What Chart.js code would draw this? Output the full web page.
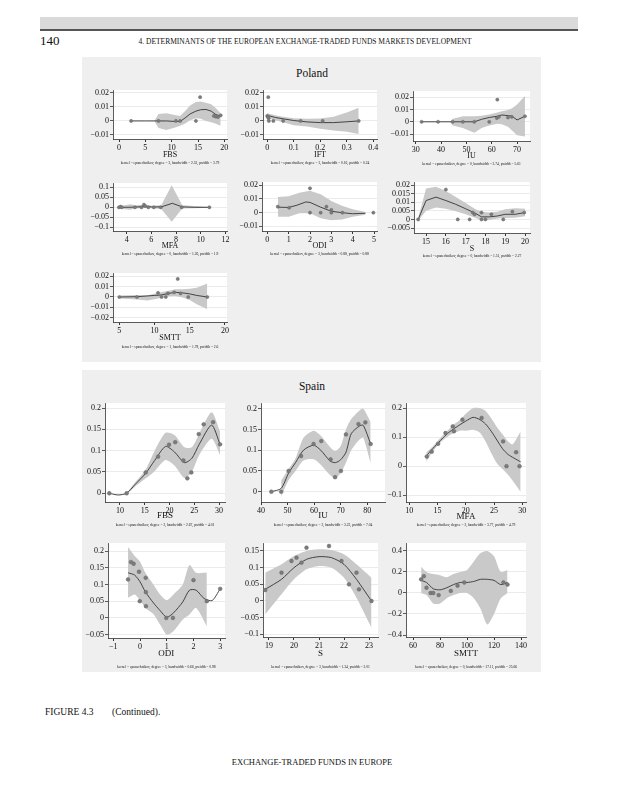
<!DOCTYPE html>
<html>
<head>
<meta charset="utf-8">
<script src="https://cdn.jsdelivr.net/npm/chart.js@4.4.1/dist/chart.umd.min.js"></script>
<style>
  body { margin: 0; width: 625px; height: 800px; background: #fff; position: relative; overflow: hidden;
         font-family: "Liberation Serif", "DejaVu Serif", serif; color: #111; }
  .blk { position: absolute; }
  .box { position: absolute; background: #efefef; }
  .t { position: absolute; white-space: nowrap; transform: translate(-50%, -50%); }
  .tl { position: absolute; white-space: nowrap; transform: translate(0, -50%); }
  canvas { position: absolute; }
</style>
</head>
<body>
<div class="blk" style="left:40px;top:17px;width:538px;height:12px;background:#dadada"></div>
<div class="blk" style="left:40px;top:29px;width:538px;height:1.5px;background:#555"></div>
<div class="tl" style="left:40px;top:41px;font-size:13px">140</div>
<div class="t" style="left:305px;top:41px;font-size:7.5px">4. DETERMINANTS OF THE EUROPEAN EXCHANGE-TRADED FUNDS MARKETS DEVELOPMENT</div>

<div class="box" style="left:82px;top:57px;width:459px;height:305px"></div>
<div class="box" style="left:82px;top:370px;width:459px;height:302px"></div>
<div class="t" style="left:312px;top:73px;font-size:11.5px">Poland</div>
<div class="t" style="left:312px;top:386px;font-size:11.5px">Spain</div>

<div class="tl" style="left:45px;top:712px;font-size:9.5px">FIGURE 4.3</div>
<div class="tl" style="left:112px;top:712px;font-size:9.5px">(Continued).</div>
<div class="t" style="left:312px;top:762px;font-size:8.5px">EXCHANGE-TRADED FUNDS IN EUROPE</div>

<script>
// ---------- Poland ----------
const plFbsPtX = [2.3, 7.5, 10.8, 11.6, 14.6, 15.4, 18.0, 18.4, 18.8, 19.3];
const plFbsPtY = [0, 0, 0, 0, 0, 0.017, 0.0036, 0.003, 0.0028, 0.004];
const plFbsFitX = [2.3, 5, 7.5, 9, 10.8, 11.6, 12.5, 13.5, 14.6, 15.5, 16.5, 17.5, 18.4, 19.3];
const plFbsFitY = [0, 0, 0, 0, -0.0004, -0.0004, 0.002, 0.005, 0.007, 0.008, 0.0082, 0.007, 0.0045, 0.0035];
const plFbsCiX = [6.7, 7.5, 9, 10.8, 11.6, 12.5, 13.5, 14.6, 15.5, 16.5, 17.5, 18.4, 19.3];
const plFbsHi = [0, 0.005, 0.0055, 0.004, 0.0035, 0.007, 0.011, 0.0135, 0.0138, 0.013, 0.012, 0.009, 0.0055];
const plFbsLo = [0, -0.005, -0.0064, -0.0045, -0.0035, -0.002, 0.0005, 0.002, 0.0015, 0, -0.001, -0.002, -0.0035];

const plIftPtX = [0.0, 0.002, 0.004, 0.005, 0.006, 0.023, 0.06, 0.126, 0.209, 0.345];
const plIftPtY = [0.0036, 0.003, 0.017, 0.002, 0, 0, 0, 0, 0, 0];
const plIftFitX = [0, 0.03, 0.06, 0.1, 0.15, 0.2, 0.25, 0.3, 0.345];
const plIftFitY = [0.004, 0.0025, 0.0015, 0.0003, -0.0007, -0.0012, -0.0012, -0.0006, 0];
const plIftHi = [0.0055, 0.004, 0.003, 0.002, 0.0015, 0.0018, 0.003, 0.006, 0.0095];
const plIftLo = [0.002, 0.0005, -0.001, -0.003, -0.004, -0.0055, -0.0068, -0.0078, -0.0093];

const plIuPtX = [32.3, 38.8, 44.6, 48.6, 53.1, 59.0, 62.0, 62.2, 62.8, 66.4, 67.9, 73.1];
const plIuPtY = [0, 0, 0, 0, 0, 0, 0.003, 0.018, 0.004, 0.0035, 0.004, 0.0045];
const plIuFitX = [32.3, 38.8, 44.6, 48.6, 53.1, 56, 59, 62.2, 64, 66.4, 68, 70, 73.1];
const plIuFitY = [0, 0, 0, 0, 0, 0.002, 0.0035, 0.0045, 0.0055, 0.005, 0.0045, 0.0015, 0.0045];
const plIuCiX = [43.5, 44.6, 48.6, 53.1, 56, 59, 62.2, 64, 66.4, 68, 70, 73.1];
const plIuHi = [0, 0.0025, 0.0045, 0.0045, 0.005, 0.006, 0.0075, 0.0085, 0.0095, 0.011, 0.014, 0.021];
const plIuLo = [0, -0.003, -0.005, -0.0089, -0.005, -0.003, -0.0015, -0.002, -0.004, -0.007, -0.011, -0.012];

const plMfaPtX = [3.37, 3.5, 3.6, 4.67, 5.2, 5.4, 5.5, 5.75, 6.2, 6.76, 8.46, 10.7];
const plMfaPtY = [0, 0.003, 0, 0, 0, 0.013, 0.006, 0, 0, 0, 0, 0];
const plMfaFitX = [3.4, 4, 4.7, 5.2, 5.5, 6, 6.8, 7.7, 8.5, 9.5, 10.7];
const plMfaFitY = [0, 0, 0.001, 0.003, 0.005, 0.002, 0.002, 0.02, 0.002, 0, 0];
const plMfaCiX = [3.4, 3.8, 4.3, 4.7, 5.2, 5.5, 6, 6.8, 7.65, 8.5, 9.5, 10.7];
const plMfaHi = [0.005, 0.01, 0.015, 0.01, 0.012, 0.015, 0.008, 0.01, 0.11, 0.01, 0.007, 0.002];
const plMfaLo = [-0.005, -0.01, -0.012, -0.006, -0.005, -0.004, -0.005, -0.008, -0.072, -0.006, -0.005, -0.002];

const plOdiPtX = [0.49, 1.02, 2.0, 2.0, 2.5, 2.77, 3.0, 3.0, 3.52, 4.97];
const plOdiPtY = [0.0044, 0.0036, 0.0178, 0, 0, 0.0044, 0.002, 0, 0, 0];
const plOdiFitX = [0.5, 1.0, 1.4, 1.8, 2.0, 2.5, 3.0, 3.5, 4.0, 4.6];
const plOdiFitY = [0.004, 0.0038, 0.0055, 0.0078, 0.0075, 0.004, 0.001, 0, -0.0008, -0.0004];
const plOdiCiX = [0.5, 1.0, 1.5, 2.0, 2.5, 3.0, 3.5, 4.0, 4.6];
const plOdiHi = [0.0115, 0.012, 0.0145, 0.016, 0.0135, 0.0085, 0.005, 0.0025, 0.0005];
const plOdiLo = [-0.003, -0.003, -0.0005, -0.0005, -0.004, -0.0055, -0.005, -0.003, -0.0015];

const plSPtX = [14.6, 16.0, 16.6, 17.2, 17.36, 17.45, 17.8, 17.8, 18.0, 18.3, 18.9, 19.36, 19.96];
const plSPtY = [0, 0.0174, 0, 0, 0.004, 0.003, 0.004, 0, 0, 0.003, 0, 0.0045, 0.004];
const plSFitX = [14.6, 15.0, 15.5, 16.0, 16.5, 17.0, 17.5, 17.8, 18.2, 18.6, 19.0, 19.5, 20.0];
const plSFitY = [0, 0.011, 0.013, 0.011, 0.0088, 0.0062, 0.0035, 0.0015, 0.0015, 0.002, 0.003, 0.003, 0.004];
const plSHi = [0.0008, 0.018, 0.019, 0.0165, 0.013, 0.0095, 0.006, 0.0045, 0.004, 0.0045, 0.006, 0.0065, 0.0062];
const plSLo = [-0.0008, 0.005, 0.007, 0.0062, 0.0048, 0.003, 0.0008, -0.0005, -0.0003, 0.0005, 0.0008, 0.001, 0.0018];

const plSmttPtX = [5.0, 7.5, 10.5, 11.0, 11.6, 11.9, 12.8, 13.3, 13.7, 14.8, 17.5];
const plSmttPtY = [0, 0, 0.004, 0, 0, 0.0035, 0.0045, 0.0175, 0.0035, 0, 0];
const plSmttFitX = [5, 7.5, 10, 11, 12, 13, 14, 15, 16, 17.5];
const plSmttFitY = [0, 0.0003, 0.0015, 0.002, 0.0035, 0.0045, 0.004, 0.003, 0.0015, 0];
const plSmttCiX = [5, 7.5, 9, 10.5, 12, 13, 14, 15, 16, 17.5];
const plSmttHi = [0.0015, 0.002, 0.0015, 0.004, 0.006, 0.0075, 0.0075, 0.008, 0.009, 0.013];
const plSmttLo = [-0.0015, -0.0025, -0.0035, -0.0015, 0.0008, 0.001, -0.0005, -0.003, -0.007, -0.012];

// ---------- Spain ----------
const esFbsPtX = [7.85, 11.35, 15.2, 17.7, 19.9, 21.15, 22.8, 23.6, 24.4, 25.9, 26.9, 28.8, 30.2];
const esFbsPtY = [0, 0, 0.049, 0.086, 0.114, 0.12, 0.077, 0.035, 0.049, 0.139, 0.162, 0.167, 0.115];
const esFbsFitX = [7.85, 9.6, 11.35, 13, 15.2, 17, 19.2, 21, 23, 24.5, 26, 28.5, 30.2];
const esFbsFitY = [0, -0.004, 0, 0.02, 0.047, 0.077, 0.11, 0.097, 0.072, 0.082, 0.115, 0.16, 0.115];
const esFbsCiX = [11.35, 13, 15.2, 17, 19.2, 21, 23, 24.5, 26, 28.5, 30.2];
const esFbsHi = [0.001, 0.025, 0.056, 0.1, 0.142, 0.137, 0.108, 0.108, 0.14, 0.19, 0.145];
const esFbsLo = [-0.001, 0.015, 0.035, 0.052, 0.078, 0.065, 0.036, 0.05, 0.09, 0.128, 0.09];

const esIuPtX = [43.9, 47.6, 50.4, 55.1, 59.8, 62.7, 66.2, 67.9, 70.1, 72.0, 76.7, 79.3, 81.3];
const esIuPtY = [0, 0, 0.05, 0.086, 0.115, 0.122, 0.078, 0.035, 0.05, 0.138, 0.163, 0.167, 0.115];
const esIuFitX = [43.9, 47.6, 50.4, 53, 56, 59.8, 62.5, 66, 68, 70, 72, 74, 77, 78.5, 81.3];
const esIuFitY = [0, 0.008, 0.045, 0.07, 0.1, 0.112, 0.1, 0.074, 0.07, 0.077, 0.095, 0.14, 0.158, 0.16, 0.115];
const esIuCiX = [47.6, 50.4, 53, 56, 59.8, 62.5, 66, 68, 70, 72, 74, 77, 78.5, 81.3];
const esIuHi = [0.027, 0.055, 0.08, 0.13, 0.147, 0.135, 0.108, 0.098, 0.11, 0.15, 0.175, 0.195, 0.2, 0.168];
const esIuLo = [-0.012, 0.028, 0.05, 0.075, 0.078, 0.065, 0.04, 0.032, 0.045, 0.07, 0.1, 0.125, 0.13, 0.068];

const esMfaPtX = [13.1, 13.97, 15.1, 16.4, 17.7, 17.9, 19.4, 22.8, 26.6, 27.2, 28.9, 29.5];
const esMfaPtY = [0.033, 0.05, 0.077, 0.114, 0.137, 0.12, 0.16, 0.166, 0.085, 0, 0.048, 0];
const esMfaFitX = [13, 14, 15, 16, 17, 18, 19, 20, 21.3, 22.5, 23.5, 24.5, 25.5, 26.5, 27.5, 28.5, 29.7];
const esMfaFitY = [0.035, 0.057, 0.078, 0.098, 0.116, 0.13, 0.143, 0.155, 0.168, 0.16, 0.145, 0.12, 0.09, 0.06, 0.04, 0.028, 0.015];
const esMfaCiX = [13, 14, 15, 16, 17, 18, 19, 20, 21.3, 22.5, 23.5, 24.5, 25.5, 26.5, 27.5, 28.3, 29.7];
const esMfaHi = [0.047, 0.065, 0.087, 0.107, 0.127, 0.145, 0.16, 0.18, 0.2, 0.2, 0.19, 0.165, 0.135, 0.11, 0.085, 0.075, 0.12];
const esMfaLo = [0.015, 0.045, 0.07, 0.09, 0.105, 0.115, 0.122, 0.122, 0.125, 0.115, 0.085, 0.045, 0.01, -0.01, -0.03, -0.05, -0.088];

const esOdiPtX = [-0.45, -0.34, -0.24, -0.04, -0.01, 0.21, 0.22, 0.22, 0.98, 1.23, 2.0, 2.5, 3.0];
const esOdiPtY = [0.115, 0.167, 0.162, 0.138, 0.05, 0.12, 0.077, 0.035, 0, 0, 0.113, 0.05, 0.087];
const esOdiFitX = [-0.45, -0.2, 0, 0.2, 0.5, 0.75, 1.0, 1.25, 1.6, 1.85, 2.1, 2.4, 2.7, 3.0];
const esOdiFitY = [0.135, 0.128, 0.108, 0.078, 0.045, 0.022, 0.002, 0.015, 0.048, 0.083, 0.083, 0.058, 0.052, 0.087];
const esOdiCiX = [-0.45, -0.2, 0, 0.2, 0.5, 0.75, 1.0, 1.25, 1.6, 1.85, 2.1, 2.5];
const esOdiHi = [0.212, 0.185, 0.168, 0.135, 0.1, 0.07, 0.053, 0.07, 0.1, 0.158, 0.135, 0.136];
const esOdiLo = [0.06, 0.07, 0.052, 0.03, 0.012, -0.02, -0.05, -0.04, -0.005, 0.01, 0.03, -0.025];

const esSPtX = [18.85, 19.5, 19.9, 20.1, 20.3, 20.5, 21.4, 21.9, 22.2, 22.5, 22.6, 23.1];
const esSPtY = [0.033, 0.085, 0.12, 0.13, 0.115, 0.16, 0.165, 0.12, 0.05, 0.085, 0.035, 0];
const esSFitX = [18.85, 19.5, 20, 20.5, 21, 21.5, 22, 22.5, 23.1];
const esSFitY = [0.035, 0.065, 0.1, 0.125, 0.133, 0.13, 0.11, 0.065, 0];
const esSHi = [0.085, 0.11, 0.135, 0.15, 0.155, 0.153, 0.14, 0.11, 0.07];
const esSLo = [-0.04, 0.02, 0.065, 0.095, 0.105, 0.1, 0.07, 0.01, -0.08];

const esSmttPtX = [66, 68, 70, 73, 75, 79, 88, 93, 98, 127, 130];
const esSmttPtY = [0.13, 0.16, 0.05, 0, 0, -0.02, 0.02, 0.07, 0.1, 0.1, 0.08];
const esSmttFitX = [66, 70, 75, 80, 85, 90, 95, 100, 105, 110, 115, 120, 125, 130];
const esSmttFitY = [0.12, 0.1, 0.04, 0.03, 0.05, 0.08, 0.1, 0.1, 0.11, 0.13, 0.13, 0.12, 0.08, 0.1];
const esSmttHi = [0.25, 0.2, 0.18, 0.17, 0.15, 0.18, 0.2, 0.22, 0.3, 0.38, 0.4, 0.35, 0.2, 0.22];
const esSmttLo = [0, -0.02, -0.1, -0.1, -0.05, -0.02, 0, 0, -0.05, -0.15, -0.3, -0.2, -0.05, 0];

// ---------- tick values ----------
const plFbsXTicks = [0, 5, 10, 15, 20];
const plIftXTicks = [0, 0.1, 0.2, 0.3, 0.4];
const plIuXTicks = [30, 40, 50, 60, 70];
const plMfaXTicks = [4, 6, 8, 10, 12];
const plOdiXTicks = [0, 1, 2, 3, 4, 5];
const plSXTicks = [15, 16, 17, 18, 19, 20];
const plSmttXTicks = [5, 10, 15, 20];
const plYTicks = [-0.01, 0, 0.01, 0.02];
const plMfaYTicks = [-0.1, -0.05, 0, 0.05, 0.1];
const plSYTicks = [-0.005, 0, 0.005, 0.01, 0.015, 0.02];
const plSmttYTicks = [-0.02, -0.01, 0, 0.01, 0.02];
const esFbsXTicks = [10, 15, 20, 25, 30];
const esIuXTicks = [40, 50, 60, 70, 80];
const esMfaXTicks = [10, 15, 20, 25, 30];
const esOdiXTicks = [-1, 0, 1, 2, 3];
const esSXTicks = [19, 20, 21, 22, 23];
const esSmttXTicks = [60, 80, 100, 120, 140];
const esYTicks = [0, 0.05, 0.1, 0.15, 0.2];
const esMfaYTicks = [-0.1, 0, 0.1, 0.2];
const esOdiYTicks = [-0.05, 0, 0.05, 0.1, 0.15, 0.2];
const esSYTicks = [-0.1, -0.05, 0, 0.05, 0.1, 0.15];
const esSmttYTicks = [-0.4, -0.2, 0, 0.2, 0.4];

// ---------- footnotes ----------
const plFbsNote = 'kernel = epanechnikov, degree = 3, bandwidth = 2.52, pwidth = 3.79';
const plIftNote = 'kernel = epanechnikov, degree = 3, bandwidth = 0.16, pwidth = 0.24';
const plIuNote = 'kernel = epanechnikov, degree = 0, bandwidth = 3.74, pwidth = 5.61';
const plMfaNote = 'kernel = epanechnikov, degree = 0, bandwidth = 1.26, pwidth = 1.9';
const plOdiNote = 'kernel = epanechnikov, degree = 3, bandwidth = 0.88, pwidth = 0.88';
const plSNote = 'kernel = epanechnikov, degree = 0, bandwidth = 1.51, pwidth = 2.27';
const plSmttNote = 'kernel = epanechnikov, degree = 1, bandwidth = 1.78, pwidth = 2.6';
const esFbsNote = 'kernel = epanechnikov, degree = 3, bandwidth = 2.67, pwidth = 4.01';
const esIuNote = 'kernel = epanechnikov, degree = 3, bandwidth = 3.23, pwidth = 7.04';
const esMfaNote = 'kernel = epanechnikov, degree = 3, bandwidth = 3.77, pwidth = 4.79';
const esOdiNote = 'kernel = epanechnikov, degree = 3, bandwidth = 0.66, pwidth = 0.98';
const esSNote = 'kernel = epanechnikov, degree = 3, bandwidth = 1.34, pwidth = 2.01';
const esSmttNote = 'kernel = epanechnikov, degree = 0, bandwidth = 17.11, pwidth = 25.66';

const panels = [
  { box: [113, 90, 227, 139], x: [-1.14, 20.5], y: [-0.0129, 0.0221], xt: plFbsXTicks, yt: plYTicks,
    pt: [plFbsPtX, plFbsPtY], fit: [plFbsFitX, plFbsFitY], ci: [plFbsCiX, plFbsHi, plFbsLo], name: 'FBS', note: plFbsNote, ty: 153.5, ny: 162.7 },
  { box: [263, 90, 377, 139], x: [-0.016, 0.414], y: [-0.0129, 0.0221], xt: plIftXTicks, yt: plYTicks,
    pt: [plIftPtX, plIftPtY], fit: [plIftFitX, plIftFitY], ci: [plIftFitX, plIftHi, plIftLo], name: 'IFT', note: plIftNote, ty: 153.5, ny: 162.7 },
  { box: [413, 91, 530, 141], x: [28.9, 75.1], y: [-0.0156, 0.025], xt: plIuXTicks, yt: plYTicks,
    pt: [plIuPtX, plIuPtY], fit: [plIuFitX, plIuFitY], ci: [plIuCiX, plIuHi, plIuLo], name: 'IU', note: plIuNote, ty: 155, ny: 163.5 },
  { box: [113, 183, 227, 231], x: [2.89, 12.13], y: [-0.1185, 0.1215], xt: plMfaXTicks, yt: plMfaYTicks,
    pt: [plMfaPtX, plMfaPtY], fit: [plMfaFitX, plMfaFitY], ci: [plMfaCiX, plMfaHi, plMfaLo], name: 'MFA', note: plMfaNote, ty: 244.5, ny: 253.5 },
  { box: [262, 182, 377, 231], x: [-0.25, 5.14], y: [-0.0134, 0.0224], xt: plOdiXTicks, yt: plYTicks,
    pt: [plOdiPtX, plOdiPtY], fit: [plOdiFitX, plOdiFitY], ci: [plOdiCiX, plOdiHi, plOdiLo], name: 'ODI', note: plOdiNote, ty: 244.5, ny: 254 },
  { box: [414, 182, 530, 232.5], x: [14.39, 20.25], y: [-0.0079, 0.0218], xt: plSXTicks, yt: plSYTicks,
    pt: [plSPtX, plSPtY], fit: [plSFitX, plSFitY], ci: [plSFitX, plSHi, plSLo], name: 'S', note: plSNote, ty: 247.5, ny: 255.5 },
  { box: [113, 273, 227, 322], x: [4.1, 20.3], y: [-0.0243, 0.0233], xt: plSmttXTicks, yt: plSmttYTicks,
    pt: [plSmttPtX, plSmttPtY], fit: [plSmttFitX, plSmttFitY], ci: [plSmttCiX, plSmttHi, plSmttLo], name: 'SMTT', note: plSmttNote, ty: 336.7, ny: 346.7 },
  { box: [105, 403, 225, 502], x: [6.98, 31.2], y: [-0.0205, 0.212], xt: esFbsXTicks, yt: esYTicks,
    pt: [esFbsPtX, esFbsPtY], fit: [esFbsFitX, esFbsFitY], ci: [esFbsCiX, esFbsHi, esFbsLo], name: 'FBS', note: esFbsNote, ty: 514.5, ny: 525, big: true },
  { box: [261, 403, 385, 502], x: [40, 86.7], y: [-0.0248, 0.2137], xt: esIuXTicks, yt: esYTicks,
    pt: [esIuPtX, esIuPtY], fit: [esIuFitX, esIuFitY], ci: [esIuCiX, esIuHi, esIuLo], name: 'IU', note: esIuNote, ty: 514.5, ny: 525, big: true },
  { box: [406, 403, 526, 502], x: [9.42, 30.65], y: [-0.1231, 0.2172], xt: esMfaXTicks, yt: esMfaYTicks,
    pt: [esMfaPtX, esMfaPtY], fit: [esMfaFitX, esMfaFitY], ci: [esMfaCiX, esMfaHi, esMfaLo], name: 'MFA', note: esMfaNote, ty: 515.5, ny: 524.5, big: true },
  { box: [107.7, 542.7, 225, 637.3], x: [-1.2, 3.18], y: [-0.06, 0.224], xt: esOdiXTicks, yt: esOdiYTicks,
    pt: [esOdiPtX, esOdiPtY], fit: [esOdiFitX, esOdiFitY], ci: [esOdiCiX, esOdiHi, esOdiLo], name: 'ODI', note: esOdiNote, ty: 653.3, ny: 666.7, big: true },
  { box: [263, 543, 378, 637], x: [18.76, 23.36], y: [-0.108, 0.174], xt: esSXTicks, yt: esSYTicks,
    pt: [esSPtX, esSPtY], fit: [esSFitX, esSFitY], ci: [esSFitX, esSHi, esSLo], name: 'S', note: esSNote, ty: 653.3, ny: 666.7, big: true },
  { box: [406, 543, 526, 637], x: [54.8, 143.7], y: [-0.419, 0.476], xt: esSmttXTicks, yt: esSmttYTicks,
    pt: [esSmttPtX, esSmttPtY], fit: [esSmttFitX, esSmttFitY], ci: [esSmttFitX, esSmttHi, esSmttLo], name: 'SMTT', note: esSmttNote, ty: 653.3, ny: 666.7, big: true }
];

const fmt = (v) => {
  const s = String(+Math.abs(v).toFixed(4));
  return v < 0 ? '\u2212' + s : s;
};
const toXY = (xs, ys) => xs.map((x, i) => ({ x: x, y: ys[i] }));

const plotBg = {
  id: 'plotBg',
  beforeDraw(chart) {
    const a = chart.chartArea, ctx = chart.ctx;
    ctx.save();
    ctx.fillStyle = '#ffffff';
    ctx.fillRect(a.left, a.top, a.width, a.height);
    ctx.restore();
  }
};

const addText = (cls, x, y, size, text) => {
  const d = document.createElement('div');
  d.className = cls;
  d.style.left = x + 'px';
  d.style.top = y + 'px';
  d.style.fontSize = size + 'px';
  d.textContent = text;
  document.body.appendChild(d);
};

const yw = 32, padT = 6, padR = 10, xh = 16;

panels.forEach(p => {
  const [L, T, R, B] = p.box;
  const w = Math.round(yw + (R - L) + padR), h = Math.round(padT + (B - T) + xh);
  const c = document.createElement('canvas');
  c.width = w; c.height = h;
  c.style.left = (L - yw) + 'px';
  c.style.top = (T - padT) + 'px';
  c.style.width = w + 'px';
  c.style.height = h + 'px';
  document.body.appendChild(c);

  const tickFont = { family: '"Liberation Serif", serif', size: 8 };
  const smooth = p.big ? 0.25 : 0;
  new Chart(c, {
    type: 'line',
    data: {
      datasets: [
        { data: toXY(p.pt[0], p.pt[1]), showLine: false, pointRadius: p.big ? 1.9 : 1.6,
          pointBackgroundColor: '#7b7b7b', pointBorderColor: '#6a6a6a', pointBorderWidth: 0.5, order: 0 },
        { data: toXY(p.fit[0], p.fit[1]), borderColor: '#333333', borderWidth: 0.9, pointRadius: 0,
          fill: false, tension: smooth, order: 1 },
        { data: toXY(p.ci[0], p.ci[1]), borderWidth: 0, borderColor: 'rgba(0,0,0,0)', pointRadius: 0,
          backgroundColor: '#c9c9c9', fill: '+1', tension: smooth, order: 2 },
        { data: toXY(p.ci[0], p.ci[2]), borderWidth: 0, borderColor: 'rgba(0,0,0,0)', pointRadius: 0,
          fill: false, tension: smooth, order: 3 }
      ]
    },
    options: {
      responsive: false,
      animation: false,
      devicePixelRatio: 1,
      layout: { padding: { top: padT, right: padR, left: 0, bottom: 0 } },
      plugins: { legend: { display: false }, tooltip: { enabled: false } },
      scales: {
        x: {
          type: 'linear', min: p.x[0], max: p.x[1],
          afterBuildTicks: s => { s.ticks = p.xt.map(v => ({ value: v })); },
          afterFit: s => { s.height = xh; },
          ticks: { font: tickFont, color: '#111', padding: 1, maxRotation: 0, autoSkip: false, callback: v => fmt(v) },
          grid: { drawOnChartArea: false, drawTicks: true, tickLength: 3, tickColor: '#333', color: '#333' },
          border: { display: true, color: '#333', width: 0.8 }
        },
        y: {
          min: p.y[0], max: p.y[1],
          afterBuildTicks: s => { s.ticks = p.yt.map(v => ({ value: v })); },
          afterFit: s => { s.width = yw; },
          ticks: { font: tickFont, color: '#111', padding: 1, autoSkip: false, callback: v => fmt(v) },
          grid: { color: '#e6e6e6', lineWidth: 0.8, drawTicks: true, tickLength: 3, tickColor: '#333' },
          border: { display: true, color: '#333', width: 0.8 }
        }
      }
    },
    plugins: [plotBg]
  });

  const cx = (L + R) / 2;
  addText('t', cx, p.ty, p.big ? 9 : 8, p.name);
  addText('t', cx, p.ny, 3.6, p.note);
});
</script>
</body>
</html>
